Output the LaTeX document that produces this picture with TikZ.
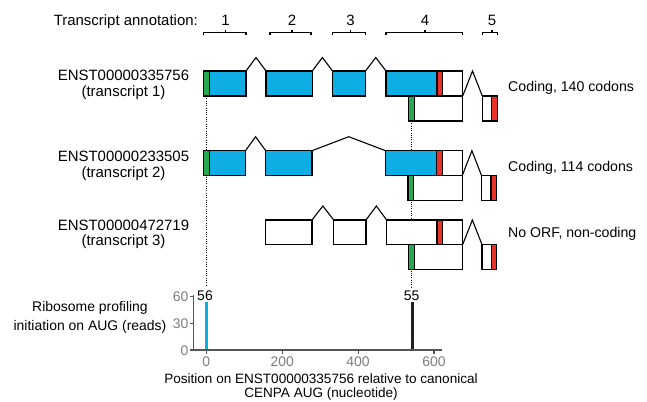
\documentclass[tikz,border=0pt]{standalone}
\usepackage{fontspec}
\setmainfont{Liberation Sans}
\usetikzlibrary{calc,fit}
\definecolor{exonblue}{RGB}{14,174,228}
\definecolor{startgreen}{RGB}{40,168,80}
\definecolor{stopred}{RGB}{232,50,42}
\definecolor{axisgray}{RGB}{85,85,85}
\definecolor{labelgray}{RGB}{125,125,125}
\definecolor{barblack}{RGB}{35,31,32}
\pgfdeclarelayer{background}
\pgfsetlayers{background,main}
\begin{document}
\begin{tikzpicture}[x=1bp,y=-1bp,
  box/.style={draw=black, line width=1.1bp, inner sep=0pt, outer sep=0pt, fill=white},
  bluebox/.style={box, fill=exonblue},
  greenbox/.style={box, fill=startgreen},
  redbox/.style={box, fill=stopred},
  intron/.style={draw=black, line width=1.1bp, line join=miter},
  dotline/.style={draw=black, line width=1.1bp, dash pattern=on 0.9bp off 1.4bp},
  bracket/.style={draw=black, line width=1.1bp},
  lab/.style={font=\fontsize{15}{18}\selectfont, inner sep=0pt, anchor=base},
  sidelab/.style={font=\fontsize{14.2}{17}\selectfont, inner sep=0pt, anchor=base west},
  small/.style={font=\fontsize{14}{17}\selectfont, inner sep=0pt, anchor=base},
  axlab/.style={font=\fontsize{13.6}{16}\selectfont, inner sep=0pt, anchor=base},
  ticklab/.style={font=\fontsize{14}{17}\selectfont, inner sep=0pt, text=labelgray},
  axis/.style={draw=axisgray, line width=1.6bp},
]
\useasboundingbox (0,0) rectangle (647,401);

% ---------- header ----------
\node[lab, anchor=base east] (hdr) at (198,25.4) {Transcript annotation:};
\foreach \a/\b/\m/\n in {203.5/246/225.5/1, 270/311/292/2, 332.5/365.5/350.5/3, 386/462.7/425/4, 482.3/497.3/492/5}{
  \draw[bracket] (\a,35) -- (\a,32.5) -- (\b,32.5) -- (\b,35);
  \draw[bracket] (\m,32.5) -- (\m,29.8);
  \node[lab] (num\n) at (\m,25.4) {\n};
}

% ---------- transcript labels ----------
\node[lab] (t1a) at (123.5,80.4) {ENST00000335756};
\node[lab] (t1b) at (123.5,96.6) {(transcript 1)};
\node[lab] (t2a) at (123.5,161.6) {ENST00000233505};
\node[lab] (t2b) at (123.5,177.6) {(transcript 2)};
\node[lab] (t3a) at (123.5,230.2) {ENST00000472719};
\node[lab] (t3b) at (123.5,245.8) {(transcript 3)};

\node[sidelab] (c1) at (508,91) {Coding, 140 codons};
\node[sidelab] (c2) at (508,171) {Coding, 114 codons};
\node[sidelab] (c3) at (508,237.6) {No ORF, non-coding};

% ---------- transcript 1 ----------
\node[greenbox, fit={(203.5,71) (209.5,96)}] (r1g) {};
\node[bluebox, fit={(209.5,71) (246,96)}] (r1e1) {};
\node[bluebox, fit={(266,71) (312.3,96)}] (r1e2) {};
\node[bluebox, fit={(332.5,71) (365.5,96)}] (r1e3) {};
\node[box, fit={(386,71) (462.7,96)}] (r1e4) {};
\node[bluebox, fit={(386,71) (437,96)}] (r1e4b) {};
\node[redbox, fit={(437,71) (442.5,96)}] (r1e4r) {};
\node[box, fit={(482.3,96) (497.3,121)}] (r1e5) {};
\node[redbox, fit={(491.7,96) (497.3,121)}] (r1e5r) {};
\node[box, fit={(414.3,96) (462.7,121)}] (r1alt) {};
\node[greenbox, fit={(408.5,96) (414.3,121)}] (r1lg) {};

% ---------- transcript 2 ----------
\node[greenbox, fit={(203.3,150.7) (209.3,175.5)}] (r2g) {};
\node[bluebox, fit={(209.3,150.7) (245.5,175.5)}] (r2e1) {};
\node[bluebox, fit={(265.7,150.7) (312,175.5)}] (r2e2) {};
\node[box, fit={(385.5,150.7) (462.3,175.5)}] (r2e4) {};
\node[bluebox, fit={(385.5,150.7) (436.7,175.5)}] (r2e4b) {};
\node[redbox, fit={(436.7,150.7) (442.3,175.5)}] (r2e4r) {};
\node[box, fit={(481.5,175.5) (496.5,200.3)}] (r2e5) {};
\node[redbox, fit={(491,175.5) (496.5,200.3)}] (r2e5r) {};
\node[box, fit={(413.7,175.5) (462.3,200.3)}] (r2alt) {};
\node[greenbox, fit={(408,175.5) (413.7,200.3)}] (r2lg) {};

% ---------- transcript 3 ----------
\node[box, fit={(265.7,220) (312,244.5)}] (r3e2) {};
\node[box, fit={(333.7,220) (366,244.5)}] (r3e3) {};
\node[box, fit={(386.7,220) (462.7,244.5)}] (r3e4) {};
\node[redbox, fit={(437,220) (442.7,244.5)}] (r3e4r) {};
\node[box, fit={(482,244.5) (496.7,269.5)}] (r3e5) {};
\node[redbox, fit={(491.3,244.5) (496.7,269.5)}] (r3e5r) {};
\node[box, fit={(414.3,244.5) (462.7,269.5)}] (r3alt) {};
\node[greenbox, fit={(408.7,244.5) (414.3,269.5)}] (r3lg) {};

% ---------- dotted guide lines (behind boxes) ----------
\coordinate (d1end) at (r1g.south |- 0,286);
\coordinate (d2end) at (r1lg.south |- 0,287);
\begin{pgfonlayer}{background}
  \draw[dotline] (r1g.south) -- (d1end);
  \draw[dotline] (r1lg.south) -- (d2end);
\end{pgfonlayer}

% ---------- introns ----------
\draw[intron] (r1e1.north east) -- ($(r1e1.north east)!.5!(r1e2.north west)+(0,-13.5)$) -- (r1e2.north west);
\draw[intron] (r1e2.north east) -- ($(r1e2.north east)!.5!(r1e3.north west)+(0,-13.5)$) -- (r1e3.north west);
\draw[intron] (r1e3.north east) -- ($(r1e3.north east)!.5!(r1e4.north west)+(0,-13.5)$) -- (r1e4.north west);
\draw[intron] (r1e4.south east) -- ($(r1e4.south east)!.5!(r1e5.north west)+(0,-25)$) -- (r1e5.north west);

\draw[intron] (r2e1.north east) -- ($(r2e1.north east)!.5!(r2e2.north west)+(0,-14)$) -- (r2e2.north west);
\draw[intron] (r2e2.north east) -- ($(r2e2.north east)!.5!(r2e4.north west)+(0,-14)$) -- (r2e4.north west);
\draw[intron] (r2e4.south east) -- ($(r2e4.south east)!.5!(r2e5.north west)+(0,-24.8)$) -- (r2e5.north west);

\draw[intron] (r3e2.north east) -- ($(r3e2.north east)!.5!(r3e3.north west)+(0,-14)$) -- (r3e3.north west);
\draw[intron] (r3e3.north east) -- ($(r3e3.north east)!.5!(r3e4.north west)+(0,-14)$) -- (r3e4.north west);
\draw[intron] (r3e4.south east) -- ($(r3e4.south east)!.5!(r3e5.north west)+(0,-24.5)$) -- (r3e5.north west);

% ---------- plot ----------
\coordinate (orig) at (193.5,350);
\coordinate (ytop) at (193.5,295);
\coordinate (xend) at (441.7,350);

\node[small] (yl1) at (90,311) {Ribosome profiling};
\node[small] (yl2) at (90,330.7) {initiation on AUG (reads)};

\foreach \v/\yy in {60/296.7, 30/323.3, 0/350}{
  \draw[axis, line width=1.2bp] (193.5,\yy) -- (190,\yy);
  \node[ticklab, anchor=base east] (yt\v) at (188.5,\yy+5) {\v};
}
\foreach \v/\xx in {0/206.3, 200/282.2, 400/358.1, 600/434}{
  \draw[axis, line width=1.2bp] (\xx,350) -- (\xx,353.5);
  \node[ticklab, anchor=base] (xt\v) at (\xx,366) {\v};
}
\draw[exonblue, line width=2.8bp] (206.3,350) -- (206.3,301.5);
\draw[barblack, line width=2.8bp] (412.5,350) -- (412.5,301.5);
\draw[axis] (ytop) -- (orig) -- (xend);

\node[small] (n56) at (205,300.3) {56};
\node[small] (n55) at (411.7,300.3) {55};

\node[axlab] (xl1) at (321,383.3) {Position on ENST00000335756 relative to canonical};
\node[axlab] (xl2) at (321,397.5) {CENPA AUG (nucleotide)};
\end{tikzpicture}
\end{document}
